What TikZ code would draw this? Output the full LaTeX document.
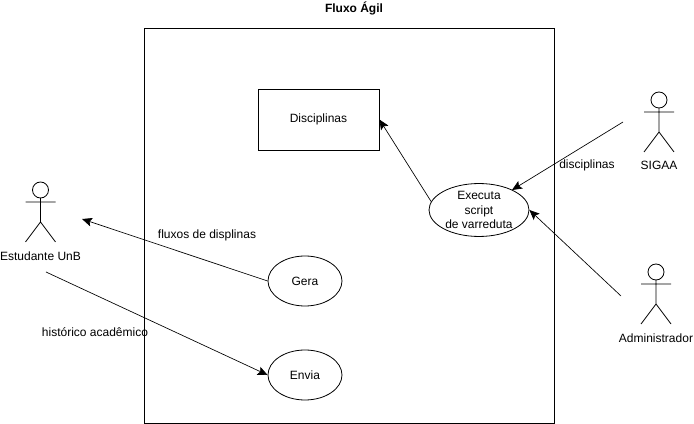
\documentclass[tikz,border=0pt]{standalone}
\usepackage{fontspec}
\setmainfont{Liberation Sans}
\usetikzlibrary{shapes.geometric,arrows.meta}
\tikzset{
    caso/.style={draw, ellipse, inner sep=0, minimum width=55.5pt, minimum height=37.5pt, align=center},
    texto/.style={inner sep=0, font=\fontsize{9}{10.9}\selectfont, align=center},
    seta/.style={-{Stealth[length=7.5pt,width=6.5pt,inset=1.5pt]}, line width=0.5pt},
    pics/ator/.style={code={
        \draw[line width=0.6pt] (0, -12) circle [radius=8];
        \draw[line width=0.6pt] (0, -4) -- (0, 20) (-15, 0) -- (15, 0) (-15, 40) -- (0, 20) -- (15, 40);
    }}
}
\begin{document}
\begin{tikzpicture}[x=0.75pt, y=-0.75pt, line width=0.6pt, every node/.append style={font=\fontsize{9}{10.9}\selectfont}]
    \useasboundingbox (0, 0) rectangle (694, 424);
    \node[draw, minimum width=307.5pt, minimum height=296.25pt, inner sep=0] (sistema) at (349, 225.5){};
    \node[texto, font=\fontsize{9}{10.9}\bfseries\selectfont] (titulo) at (354, 8){Fluxo Ágil};
    \node[draw, minimum width=90.75pt, minimum height=45.75pt, inner sep=0] (disciplinas) at (318.5, 119.5){Disciplinas};
    \node[caso, minimum width=75pt] (executa) at (479, 210){Executa\\script\\de varreduta};
    \node[caso] (gera) at (305, 281){Gera};
    \node[caso] (envia) at (305, 375){Envia};
    \pic at (40.5, 202) {ator};
    \pic at (659, 112) {ator};
    \pic at (656, 284) {ator};
    \node[texto] (estudante) at (40.5, 256){Estudante UnB};
    \node[texto] (sigaa) at (659, 165){SIGAA};
    \node[texto] (administrador) at (656, 338){Administrador};
    \coordinate (estudanteEntra) at (82, 219);
    \coordinate (estudanteSai) at (46, 272);
    \coordinate (sigaaSai) at (623, 122);
    \coordinate (administradorSai) at (621, 296);
    \coordinate (executaEntra) at (512, 190);
    \draw[seta] (gera.west) -- (estudanteEntra);
    \draw[seta] (estudanteSai) -- (envia.west);
    \draw[seta] (executa.170) -- (disciplinas.east);
    \draw[seta] (sigaaSai) -- (executaEntra);
    \draw[seta] (administradorSai) -- (executa.east);
    \node[texto] (fluxos) at (207, 235){fluxos de displinas};
    \node[texto] (historico) at (95, 332){histórico acadêmico};
    \node[texto] (rotulo) at (587, 165){disciplinas};
\end{tikzpicture}
\end{document}
